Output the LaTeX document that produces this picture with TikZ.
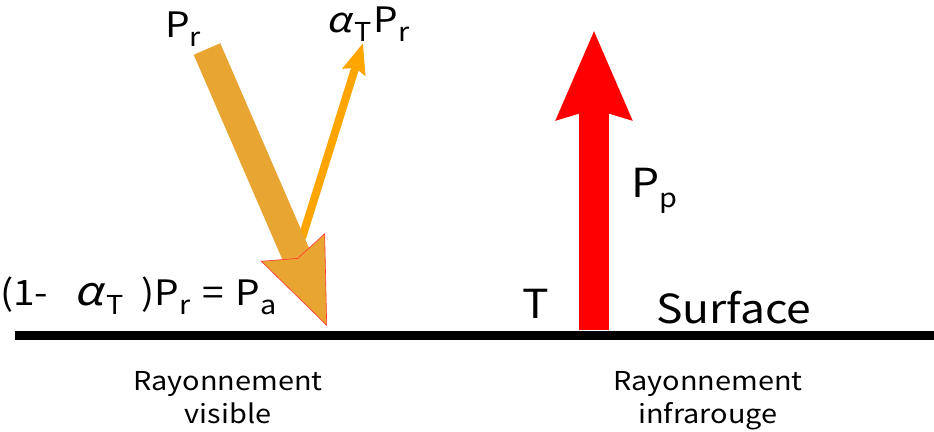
\documentclass[tikz,border=0pt]{standalone}
\usepackage{fontspec}
\setmainfont[FakeStretch=1.11]{Noto Sans CJK JP}
\newfontfamily\alfont[FakeSlant=0.22,FakeStretch=1.15]{Noto Sans CJK JP}
\usetikzlibrary{arrows.meta}
\definecolor{sunorange}{HTML}{E8A532}
\definecolor{refl}{HTML}{FFA500}
\newcommand{\al}{{\alfont α}}
\newcommand{\sub}[1]{\raisebox{-0.26em}{\fontsize{26}{30}\selectfont #1}}

\begin{document}
\begin{tikzpicture}[x=1pt,y=-1pt,
    lab/.style={font=\fontsize{35}{40}\selectfont, inner sep=0pt},
    biglab/.style={font=\fontsize{40}{48}\selectfont, inner sep=0pt},
    raylab/.style={font=\fontsize{26}{33}\selectfont, inner sep=0pt, align=center}]
    \useasboundingbox (0,0) rectangle (934,431);

    \coordinate (sl) at (15,335.5);
    \coordinate (sr) at (934,335.5);
    \coordinate (in) at (207,49);
    \coordinate (hit) at (327,326);
    \coordinate (rf) at (302,238);
    \coordinate (up) at (363,43);
    \coordinate (em) at (594,330);
    \coordinate (sky) at (594,30);

    \draw[line width=9pt] (sl) -- (sr);

    \draw[refl, line width=8pt, -{Stealth[length=30pt,width=23pt,inset=4pt]}] (rf) -- (up);
    \draw[sunorange, line width=29pt,
        -{Stealth[length=86pt,width=70pt,inset=12pt,line width=0.6pt,color=red!80,fill=sunorange]}] (in) -- (hit);
    \draw[red, line width=30pt, -{Stealth[length=88pt,width=72pt,inset=9pt]}] (em) -- (sky);

    \node[lab, anchor=base west] (pr) at (165,37) {P\sub{r}};
    \node[lab, anchor=base west] (apr) at (326,32) {\al\hspace{3pt}\sub{T}\hspace{2pt}P\sub{r}};
    \node[lab, anchor=base west] (pa) at (0,305)
        {(1-\hspace{26pt}{\fontsize{40}{40}\selectfont\al}\hspace{3pt}\sub{T}\hspace{18pt})P\sub{r}\hspace{12pt}=\hspace{12pt}P\sub{a}};
    \node[biglab, anchor=base west] (t) at (522,318) {T};
    \node[biglab, anchor=base west] (pp) at (631,197) {P\sub{p}};
    \node[biglab, anchor=base west] (surf) at (656,323) {Surface};

    \node[raylab, anchor=base] (vis) at (228,423) {Rayonnement\\visible};
    \node[raylab, anchor=base] (ir) at (708,423) {Rayonnement\\infrarouge};
\end{tikzpicture}
\end{document}
